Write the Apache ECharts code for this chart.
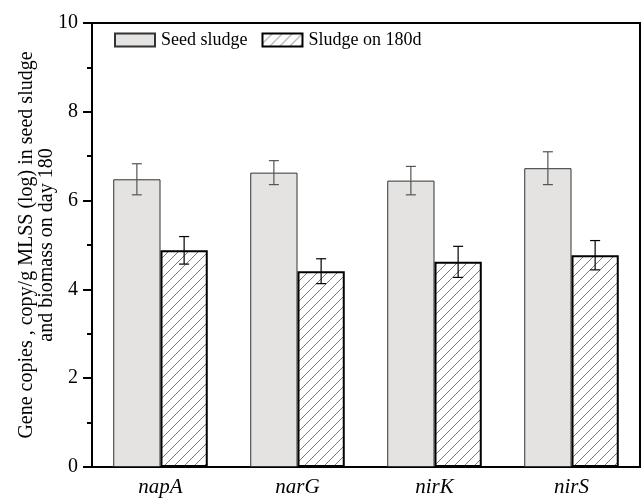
<!DOCTYPE html>
<html><head><meta charset="utf-8">
<script src="https://cdn.jsdelivr.net/npm/echarts@6/dist/echarts.min.js"></script>
<style>html,body{margin:0;padding:0;background:#fff}#c{width:644px;height:500px}</style>
</head><body><div id="c"></div>
<script>
const categories = ['napA', 'narG', 'nirK', 'nirS'];
const seedValues = [6.48, 6.63, 6.45, 6.73];
const seedErrors = [0.35, 0.27, 0.32, 0.37];
const day180Values = [4.88, 4.41, 4.62, 4.77];
const day180Errors = [0.31, 0.28, 0.35, 0.33];
const seriesNames = ['Seed sludge', 'Sludge on 180d'];
const yTicks = [0, 2, 4, 6, 8, 10];

function hatch() {
  const c = document.createElement('canvas');
  c.width = 10; c.height = 10;
  const g = c.getContext('2d');
  g.fillStyle = '#fff'; g.fillRect(0, 0, 10, 10);
  g.strokeStyle = '#7a7a7a'; g.lineWidth = 1;
  g.beginPath();
  g.moveTo(-1, 11); g.lineTo(11, -1);
  g.moveTo(-1, 1); g.lineTo(1, -1);
  g.moveTo(9, 11); g.lineTo(11, 9);
  g.stroke();
  return c;
}
const GAP = 0.31;
function errSeries(vals, errs, side, color) {
  return {
    type: 'custom', silent: true, z: 5,
    data: vals.map((v, i) => [i, v - errs[i], v + errs[i]]),
    renderItem: function (params, api) {
      const band = api.size([1, 0])[0];
      const bw = band * (1 - GAP) / 2;
      const cx = api.coord([api.value(0), 0])[0] + side * bw / 2;
      const lo = api.coord([api.value(0), api.value(1)])[1];
      const hi = api.coord([api.value(0), api.value(2)])[1];
      const hw = 5;
      const st = { stroke: color, lineWidth: 1.2 };
      return { type: 'group', children: [
        { type: 'line', shape: { x1: cx, y1: lo, x2: cx, y2: hi }, style: st },
        { type: 'line', shape: { x1: cx - hw, y1: lo, x2: cx + hw, y2: lo }, style: st },
        { type: 'line', shape: { x1: cx - hw, y1: hi, x2: cx + hw, y2: hi }, style: st }
      ]};
    }
  };
}
const font = 'Liberation Serif';
const chart = echarts.init(document.getElementById('c'));
chart.setOption({
  animation: false,
  textStyle: { fontFamily: font, color: '#000' },
  grid: { left: 92, right: 4, top: 23, bottom: 33, show: true, borderColor: '#000', borderWidth: 2,
          outerBoundsMode: 'none', containLabel: false },
  legend: {
    data: seriesNames, left: 109, top: 26, itemWidth: 40, itemHeight: 13, itemGap: 14,
    icon: 'rect',
    textStyle: { fontFamily: font, fontSize: 18, color: '#000', padding: [0, 0, 0, 1] }
  },
  xAxis: {
    type: 'category', data: categories,
    axisLine: { lineStyle: { color: '#000', width: 2 } },
    axisTick: { show: false },
    axisLabel: { fontFamily: font, fontSize: 21, fontStyle: 'italic', color: '#000', margin: 10 }
  },
  yAxis: {
    type: 'value', min: yTicks[0], max: yTicks[yTicks.length - 1], interval: 2,
    name: 'Gene copies , copy/g MLSS (log) in seed sludge\nand biomass on day 180',
    nameLocation: 'middle', nameGap: 35, nameMoveOverlap: false,
    nameTextStyle: { fontFamily: font, fontSize: 20, color: '#000', lineHeight: 20 },
    axisLine: { show: true, lineStyle: { color: '#000', width: 2 } },
    axisTick: { show: true, inside: false, length: 9, lineStyle: { color: '#000', width: 2 } },
    minorTick: { show: true, splitNumber: 2, length: 5, lineStyle: { color: '#000', width: 2 } },
    splitLine: { show: false },
    axisLabel: { fontFamily: font, fontSize: 20, color: '#000', margin: 14 }
  },
  series: [
    { name: seriesNames[0], type: 'bar', data: seedValues, barGap: '0%', barCategoryGap: (GAP * 100) + '%',
      itemStyle: { color: '#e4e3e2', borderColor: '#333', borderWidth: 1 } },
    { name: seriesNames[1], type: 'bar', data: day180Values,
      itemStyle: { color: { image: hatch(), repeat: 'repeat' }, borderColor: '#000', borderWidth: 2 } },
    errSeries(seedValues, seedErrors, -1, '#555'),
    errSeries(day180Values, day180Errors, 1, '#000')
  ]
});
</script></body></html>
